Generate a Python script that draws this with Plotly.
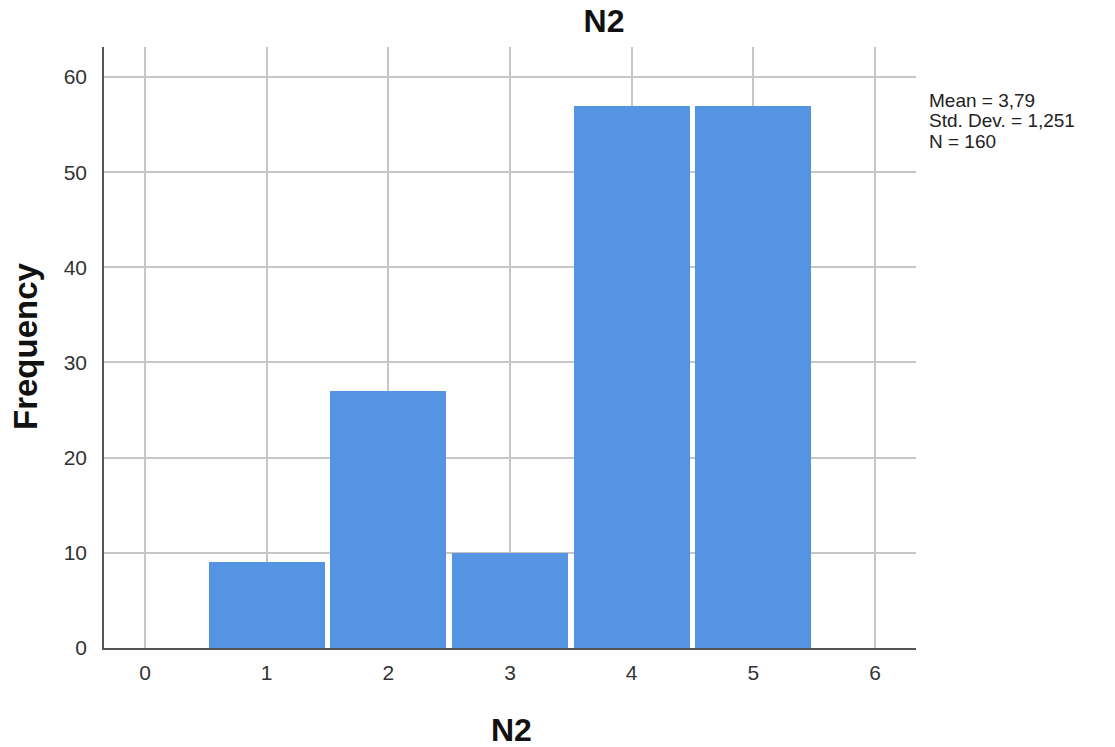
import plotly.graph_objects as go

values = [1, 2, 3, 4, 5]
frequency = [9, 27, 10, 57, 57]
x_ticks = [0, 1, 2, 3, 4, 5, 6]
y_ticks = [0, 10, 20, 30, 40, 50, 60]
stats_text = ["Mean = 3,79", "Std. Dev. = 1,251", "N = 160"]
title_text = "N2"
x_title = "N2"
y_title = "Frequency"

FONT = "Liberation Sans, Arial, sans-serif"
L, R, T, B = 104, 916, 47, 648
PW, PH = R - L, B - T

fig = go.Figure()
fig.add_trace(go.Bar(
    x=values, y=frequency, width=0.953,
    marker=dict(color="#5594E2", line=dict(width=0)),
    showlegend=False,
))

fig.update_layout(
    width=1115, height=747,
    margin=dict(l=L, r=1115 - R, t=T, b=747 - B),
    paper_bgcolor="white", plot_bgcolor="white",
    bargap=0,
    font=dict(family=FONT, size=20, color="#222"),
    title=dict(text="<b>" + title_text + "</b>", x=604 / 1115, xanchor="center",
               y=1 - 21 / 747, yanchor="middle",
               font=dict(family=FONT, size=32, color="#111")),
)
fig.update_xaxes(
    range=[-0.337, 6.337], tickvals=x_ticks, ticktext=[str(v) for v in x_ticks],
    showgrid=True, gridcolor="#C6C6C6", gridwidth=2,
    showline=True, linecolor="#555", linewidth=1.5,
    ticks="", ticklabelstandoff=5, zeroline=False,
    tickfont=dict(family=FONT, size=21, color="#333"),
)
fig.update_yaxes(
    range=[0, 63.15], tickvals=y_ticks,
    showgrid=True, gridcolor="#C6C6C6", gridwidth=2,
    showline=True, linecolor="#555", linewidth=1.5,
    ticks="", ticklabelstandoff=11, zeroline=False,
    tickfont=dict(family=FONT, size=21, color="#333"),
)
fig.add_annotation(
    text="<b>" + x_title + "</b>", xref="paper", yref="paper",
    x=(511 - L) / PW, y=-(730 - B) / PH, xanchor="center", yanchor="middle",
    showarrow=False, font=dict(family=FONT, size=32, color="#111"),
)
fig.add_annotation(
    text="<b>" + y_title + "</b>", xref="paper", yref="paper",
    x=-(L - 25) / PW, y=1 - (346 - T) / PH, xanchor="center", yanchor="middle",
    textangle=-90, showarrow=False, font=dict(family=FONT, size=33, color="#111"),
)
for i, line in enumerate(stats_text):
    fig.add_annotation(
        text=line, xref="paper", yref="paper",
        x=(928 - L) / PW, y=1 - (100 + 20.5 * i - T) / PH,
        xanchor="left", yanchor="middle", align="left", showarrow=False,
        borderpad=0,
        font=dict(family=FONT, size=19, color="#222"),
    )

fig.write_html(
    "out.html",
    config={"displayModeBar": False},
    post_script="document.body.style.margin='0';document.body.style.overflow='hidden';",
)
